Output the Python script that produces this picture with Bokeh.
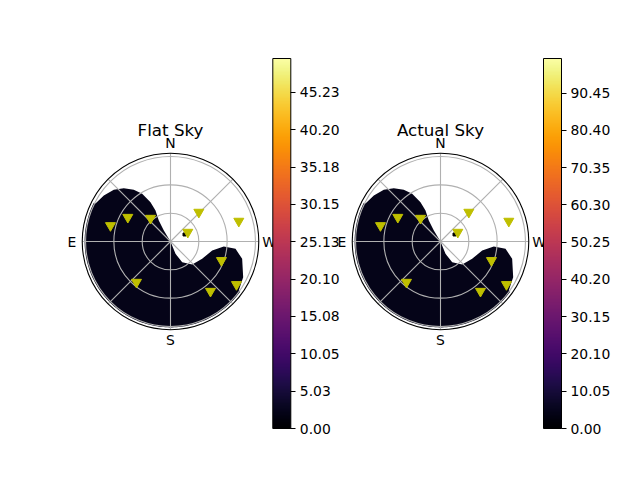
import numpy as np
from bokeh.plotting import figure
from bokeh.models import (ColumnDataSource, LinearColorMapper, ColorBar,
                          FixedTicker, PrintfTickFormatter, Range1d)
from bokeh.palettes import Inferno256
from bokeh.embed import file_html
from bokeh.resources import INLINE
from bokeh.core.properties import value

# ---------------- data ----------------
titles = ["Flat Sky", "Actual Sky"]
cbar_max = [49.8, 99.8]
cbar_ticks = [
    [0.00, 5.03, 10.05, 15.08, 20.10, 25.13, 30.15, 35.18, 40.20, 45.23],
    [0.00, 10.05, 20.10, 30.15, 40.20, 50.25, 60.30, 70.35, 80.40, 90.45],
]
fill_level = [2.3, 4.6]          # (nearly uniform) heatmap value inside region

# satellites: azimuth (deg, N=0, E=90) and zenith distance (deg)
sat_az = [75.1, 60.4, 40.6, 316.0, 286.6, 298.3, 249.6, 236.9, 218.8, 140.1]
sat_zen = [65.8, 52.0, 32.5, 43.2, 75.5, 20.8, 57.6, 83.4, 67.6, 56.2]

# inner edge of the unmasked heatmap region (az, zen)
edge_az = [63.1, 55.4, 47.6, 41.2, 35.4, 30.7, 27.0, 25.8, 29.1, 31.3, 0.0,
           202.1, 209.5, 223.3, 241.4, 257.8, 264.6, 263.6, 256.4, 243.8, 234.3]
edge_zen = [89.1, 85.8, 81.3, 75.1, 67.2, 58.8, 46.7, 36.5, 25.5, 13.6, 0.0,
            14.1, 25.2, 33.5, 38.2, 45.2, 56.7, 69.3, 78.1, 85.8, 89.1]
rim_zen = 91.0
hot_az = [296.6]
hot_zen = [16.6]

ring_zen = [30, 60, 90]
spoke_az = [0, 45, 90, 135, 180, 225, 270, 315]
dir_labels = ["N", "E", "S", "W"]
dir_az = [0, 90, 180, 270]

# ---------------- layout ----------------
W, H = 624, 464
centers = [(170.0, 480 - 241.0), (440.0, 480 - 241.0)]
k = 0.944          # px per degree
rmax = 93.5
cbar_left = [272.3, 543.0]
cbar_bottom = 464 - 428

p = figure(width=W, height=H, x_range=Range1d(0, 624), y_range=Range1d(16, 480),
           x_axis_type=None, y_axis_type=None, toolbar_location=None,
           output_backend="svg", min_border=0)
p.outline_line_color = None
p.grid.visible = False
p.background_fill_color = "white"
p.border_fill_color = "white"


def to_xy(cx, cy, az, zen):
    a = np.radians(np.asarray(az, dtype=float))
    z = np.asarray(zen, dtype=float) * k
    return cx - z * np.sin(a), cy + z * np.cos(a)


font = value("DejaVu Sans")

for i in range(2):
    cx, cy = centers[i]
    mapper = LinearColorMapper(palette=Inferno256, low=0, high=cbar_max[i])

    # heatmap region polygon: inner edge then rim arc back from az 234 to 63
    rim_az = np.linspace(edge_az[-1], edge_az[0], 120)
    poly_az = list(edge_az) + list(rim_az)
    poly_zen = list(edge_zen) + [rim_zen] * len(rim_az)
    px, py = to_xy(cx, cy, poly_az, poly_zen)
    src = ColumnDataSource(dict(xs=[list(px)], ys=[list(py)], v=[fill_level[i]]))
    p.patches("xs", "ys", source=src, fill_color={"field": "v", "transform": mapper},
              line_color=None)

    hx, hy = to_xy(cx, cy, hot_az, hot_zen)
    p.scatter(hx, hy, marker="square", size=3, color="black")

    # grid rings
    for rz in ring_zen:
        p.circle(x=[cx], y=[cy], radius=rz * k, fill_color=None,
                 line_color="#b0b0b0", line_width=1.1)
    # spokes
    sx, sy = to_xy(cx, cy, spoke_az, [rmax] * len(spoke_az))
    p.segment(x0=[cx] * len(spoke_az), y0=[cy] * len(spoke_az), x1=sx, y1=sy,
              line_color="#b0b0b0", line_width=1.1)
    # spine
    p.circle(x=[cx], y=[cy], radius=rmax * k, fill_color=None,
             line_color="black", line_width=1.1)

    # satellites
    mx, my = to_xy(cx, cy, sat_az, sat_zen)
    p.scatter(mx, my, marker="inverted_triangle", size=10,
              fill_color="#bfbf00", line_color="#bfbf00")

    # direction labels
    lx, ly = to_xy(cx, cy, dir_az, [104.5] * 4)
    p.text(lx, ly, text=dir_labels, text_align="center", text_baseline="middle",
           text_font=font, text_font_size="13.9px", text_color="black")

    # title
    p.text([cx], [480 - 129.5], text=[titles[i]], text_align="center",
           text_baseline="middle", text_font=font, text_font_size="16.7px",
           text_color="black")

    cb = ColorBar(color_mapper=mapper, ticker=FixedTicker(ticks=cbar_ticks[i]),
                  formatter=PrintfTickFormatter(format="%.2f"),
                  width=18, height=370, location=(cbar_left[i], cbar_bottom),
                  padding=0, bar_line_color="black", bar_line_width=1,
                  major_tick_in=0, major_tick_out=5, major_tick_line_color="black",
                  minor_tick_line_color=None, label_standoff=4,
                  major_label_text_font="DejaVu Sans",
                  major_label_text_font_size="13.9px",
                  major_label_text_color="black",
                  background_fill_color=None, border_line_color=None)
    p.add_layout(cb, "center")

open("out.html", "w").write(file_html(p, INLINE))
